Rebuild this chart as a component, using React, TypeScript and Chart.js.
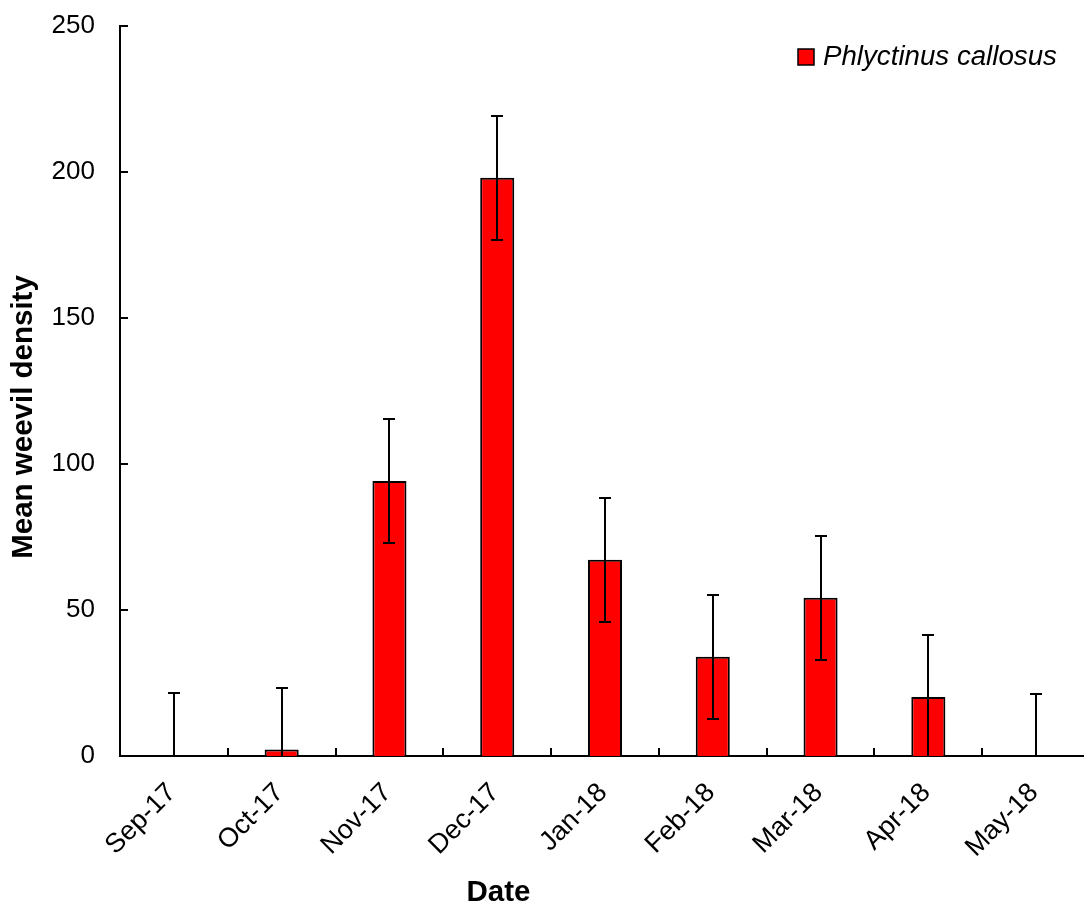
import React, { useEffect, useRef } from "react";
import { Chart, registerables } from "chart.js";

Chart.register(...registerables);

const categories = ["Sep-17", "Oct-17", "Nov-17", "Dec-17", "Jan-18", "Feb-18", "Mar-18", "Apr-18", "May-18"];
const meanDensity = [0, 2.2, 94.2, 198, 67.2, 34, 54.2, 20.2, 0];
const standardError = [21.5, 21.2, 21.3, 21.2, 21.3, 21.3, 21.2, 21.2, 21.4];
const yTickValues = [0, 50, 100, 150, 200, 250];
const seriesLabel = "Phlyctinus callosus";
const xTitle = "Date";
const yTitle = "Mean weevil density";

const FONT = '"Liberation Sans", Arial, Helvetica, sans-serif';
const BAR_RED = "#FF0000";

const decorPlugin = {
  id: "decor",
  afterDatasetsDraw(chart: any) {
    const ctx = chart.ctx;
    const xs = chart.scales.x;
    const ys = chart.scales.y;
    ctx.save();
    ctx.strokeStyle = "#000";
    ctx.lineWidth = 2;
    meanDensity.forEach((v, i) => {
      const px = Math.round(xs.getPixelForValue(i));
      const e = standardError[i];
      const top = Math.round(ys.getPixelForValue(v + e));
      const low = v - e;
      const bot = Math.round(ys.getPixelForValue(Math.max(0, low)));
      ctx.beginPath();
      ctx.moveTo(px, top);
      ctx.lineTo(px, bot);
      ctx.moveTo(px - 6, top);
      ctx.lineTo(px + 6, top);
      if (low > 0) {
        ctx.moveTo(px - 6, bot);
        ctx.lineTo(px + 6, bot);
      }
      ctx.stroke();
    });
    ctx.restore();
  },
  afterDraw(chart: any) {
    const ctx = chart.ctx;
    const xs = chart.scales.x;
    const ys = chart.scales.y;
    const area = chart.chartArea;
    ctx.save();
    ctx.strokeStyle = "#000";
    ctx.lineWidth = 2;
    ctx.beginPath();
    // inward y tick marks
    yTickValues.forEach((v) => {
      const py = Math.round(ys.getPixelForValue(v));
      ctx.moveTo(area.left, py);
      ctx.lineTo(area.left + 8, py);
    });
    // inward x tick marks at category boundaries
    for (let i = 1; i < categories.length; i++) {
      const px = Math.round(xs.getPixelForValue(i - 0.5));
      ctx.moveTo(px, area.bottom);
      ctx.lineTo(px, area.bottom - 8);
    }
    ctx.stroke();

    // legend
    const lx = area.left + 678;
    const ly = area.top + 23;
    ctx.fillStyle = BAR_RED;
    ctx.fillRect(lx, ly, 16, 16);
    ctx.lineWidth = 1.5;
    ctx.strokeRect(lx, ly, 16, 16);
    ctx.fillStyle = "#000";
    ctx.font = `italic 27.7px ${FONT}`;
    ctx.textAlign = "left";
    ctx.textBaseline = "middle";
    ctx.fillText(seriesLabel, lx + 25, ly + 8);

    // axis titles
    ctx.font = `bold 29.5px ${FONT}`;
    ctx.textAlign = "center";
    ctx.textBaseline = "middle";
    ctx.fillText(xTitle, area.left + 378.5, area.bottom + 137);
    ctx.save();
    ctx.translate(area.left - 96, area.top + 391);
    ctx.rotate(-Math.PI / 2);
    ctx.fillText(yTitle, 0, 0);
    ctx.restore();
    ctx.restore();
  },
};

export default function App() {
  const ref = useRef<HTMLCanvasElement>(null);
  useEffect(() => {
    const chart = new Chart(ref.current as HTMLCanvasElement, {
      type: "bar",
      data: {
        labels: categories,
        datasets: [
          {
            label: seriesLabel,
            data: meanDensity,
            backgroundColor: BAR_RED,
            borderColor: "#000",
            borderWidth: 2,
            barPercentage: 0.316,
            categoryPercentage: 1,
          },
        ],
      },
      options: {
        responsive: false,
        animation: false,
        devicePixelRatio: 1,
        layout: { padding: { top: 26, right: 10, bottom: 0, left: 0 } },
        plugins: {
          legend: { display: false },
          tooltip: { enabled: false },
          title: { display: false },
        },
        scales: {
          x: {
            type: "category",
            grid: { display: false, drawTicks: false },
            border: { display: true, color: "#000", width: 2 },
            ticks: {
              autoSkip: false,
              minRotation: 45,
              maxRotation: 45,
              padding: 21,
              labelOffset: -2,
              color: "#000",
              font: { family: FONT, size: 27 },
            },
            afterFit: (s: any) => {
              s.height = 152;
              s.paddingTop = 0;
              s.paddingBottom = 0;
              s.paddingLeft = 0;
              s.paddingRight = 0;
            },
          },
          y: {
            min: 0,
            max: 250,
            grid: { display: false, drawTicks: false },
            border: { display: true, color: "#000", width: 2 },
            ticks: {
              stepSize: 50,
              padding: 25,
              color: "#000",
              font: { family: FONT, size: 26 },
            },
            afterFit: (s: any) => {
              s.width = 120;
              s.paddingTop = 0;
              s.paddingBottom = 0;
              s.paddingLeft = 0;
              s.paddingRight = 0;
            },
          },
        },
      },
      plugins: [decorPlugin],
    } as any);
    return () => chart.destroy();
  }, []);
  return (
    <div
      style={{
        position: "fixed",
        left: 0,
        top: 0,
        width: 1084,
        height: 908,
        overflow: "hidden",
        background: "#fff",
      }}
    >
      <canvas ref={ref} width={1100} height={908} style={{ display: "block", width: 1100, height: 908 }} />
    </div>
  );
}
